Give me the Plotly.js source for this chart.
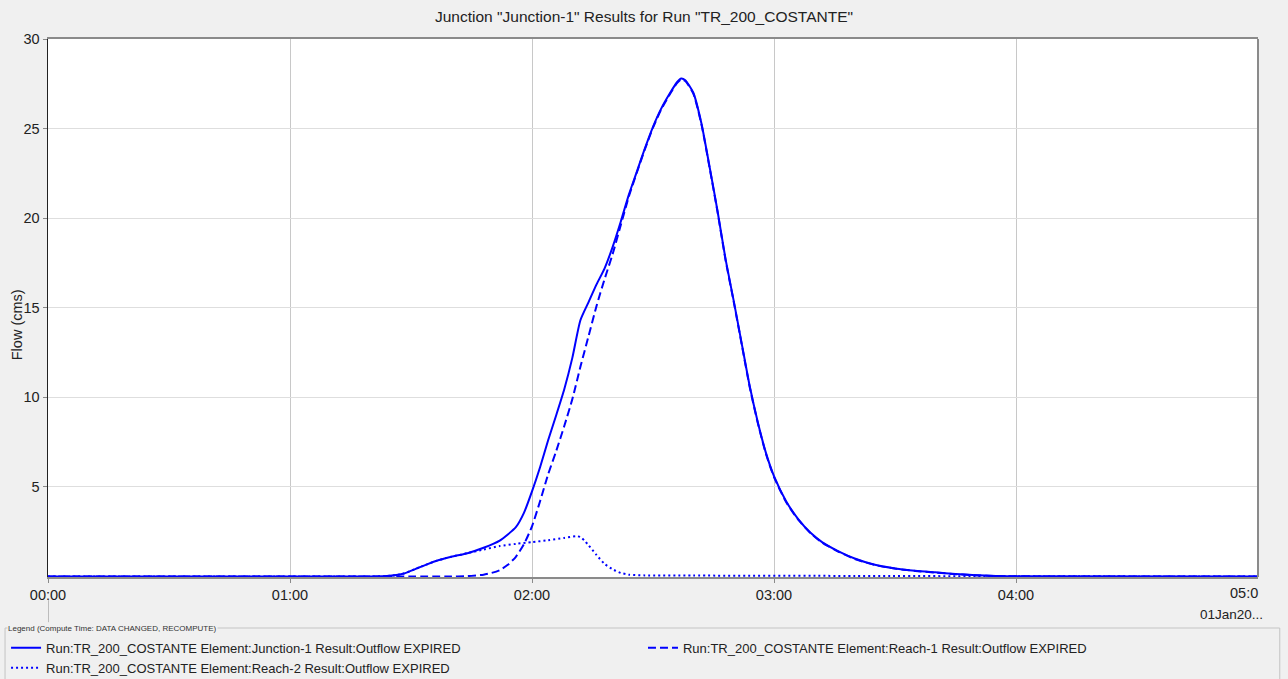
<!DOCTYPE html>
<html>
<head>
<meta charset="utf-8">
<script src="https://cdn.plot.ly/plotly-3.0.1.min.js"></script>
<style>html,body{margin:0;padding:0;background:#f0f0f0;}#chart{width:1288px;height:679px;}</style>
</head>
<body>
<div id="chart"></div>
<script>
// Time in minutes from 00:00
const junctionTime = [0, 80, 84, 88, 92, 96, 100, 104, 108, 112, 116, 118, 120, 122, 124, 126, 128, 130, 132, 134, 136, 138, 140, 142, 144, 146, 148, 150, 152, 154, 156, 157, 158, 160, 162, 164, 166, 168, 170, 172, 174, 176, 178, 180, 183, 186, 189, 192, 196, 200, 205, 210, 215, 220, 225, 230, 235, 240, 300];
const junctionFlow = [0, 0, 0.02, 0.15, 0.5, 0.85, 1.1, 1.3, 1.6, 2.0, 2.75, 3.55, 4.75, 6.1, 7.6, 9.0, 10.45, 12.2, 14.3, 15.3, 16.3, 17.2, 18.4, 19.8, 21.3, 22.6, 23.9, 25.1, 26.1, 26.9, 27.6, 27.8, 27.7, 27.0, 25.3, 22.9, 20.4, 17.7, 15.4, 13.0, 10.6, 8.6, 6.9, 5.6, 4.2, 3.2, 2.45, 1.9, 1.4, 1.0, 0.65, 0.45, 0.32, 0.23, 0.14, 0.07, 0.03, 0.01, 0];

const reach1Time = [0, 100, 104, 108, 110, 112, 114, 116, 118, 120, 122, 124, 126, 128, 130, 132, 134, 136, 138, 140, 142, 144, 146, 148, 150, 152, 154, 156, 157, 158, 160, 162, 164, 166, 168, 170, 172, 174, 176, 178, 180, 183, 186, 189, 192, 196, 200, 205, 210, 215, 220, 225, 230, 235, 240, 300];
const reach1Flow = [0, 0, 0.02, 0.1, 0.2, 0.35, 0.65, 1.1, 1.8, 2.8, 4.2, 5.7, 7.0, 8.4, 9.9, 11.7, 13.4, 15.1, 16.6, 18.0, 19.6, 21.2, 22.55, 23.85, 25.05, 26.05, 26.85, 27.55, 27.75, 27.65, 26.95, 25.25, 22.85, 20.35, 17.65, 15.35, 12.95, 10.55, 8.55, 6.85, 5.55, 4.16, 3.17, 2.43, 1.88, 1.38, 0.98, 0.64, 0.44, 0.31, 0.22, 0.13, 0.065, 0.025, 0.008, 0];

const reach2Time = [0, 80, 84, 88, 92, 96, 100, 104, 108, 112, 116, 120, 124, 128, 131, 132, 133, 134, 136, 138, 140, 142, 144, 148, 160, 200, 240, 300];
const reach2Flow = [0, 0, 0.02, 0.15, 0.5, 0.85, 1.1, 1.3, 1.5, 1.7, 1.82, 1.92, 2.02, 2.15, 2.25, 2.2, 2.0, 1.75, 1.2, 0.7, 0.4, 0.2, 0.1, 0.06, 0.05, 0.03, 0.01, 0];

const tickMinutes = [0, 60, 120, 180, 240];
const tickLabels = ["00:00", "01:00", "02:00", "03:00", "04:00"];
const seriesNames = [
  "Run:TR_200_COSTANTE Element:Junction-1 Result:Outflow EXPIRED",
  "Run:TR_200_COSTANTE Element:Reach-1 Result:Outflow EXPIRED",
  "Run:TR_200_COSTANTE Element:Reach-2 Result:Outflow EXPIRED"
];

const FONT = "Liberation Sans, Arial, sans-serif";
const BLUE = "#0000ff";

const traces = [
  {x: junctionTime, y: junctionFlow, name: seriesNames[0], legend: "legend", legendrank: 1, mode: "lines", line: {color: BLUE, width: 2, shape: "spline", smoothing: 0.6}},
  {x: reach1Time, y: reach1Flow, name: seriesNames[1], legend: "legend2", mode: "lines", line: {color: BLUE, width: 2, dash: "8px,4px", shape: "spline", smoothing: 0.6}},
  {x: reach2Time, y: reach2Flow, name: seriesNames[2], legend: "legend", legendrank: 2, mode: "lines", line: {color: BLUE, width: 2, dash: "2px,3px", shape: "spline", smoothing: 0.6}}
];

const legendFont = {family: FONT, size: 13, color: "#222"};

const layout = {
  width: 1288, height: 679,
  paper_bgcolor: "#f0f0f0",
  plot_bgcolor: "#ffffff",
  margin: {l: 48, r: 30, t: 39, b: 102, autoexpand: false},
  font: {family: FONT, size: 13, color: "#222"},
  title: {text: 'Junction "Junction-1" Results for Run "TR_200_COSTANTE"', font: {family: FONT, size: 15.5, color: "#222"}, x: 0.5, xanchor: "center", y: 0.975, yanchor: "middle"},
  xaxis: {
    range: [0, 300], tickvals: tickMinutes, ticktext: tickLabels,
    showgrid: true, gridcolor: "#c8c8c8", gridwidth: 1,
    showline: true, linecolor: "#8a8a8a", linewidth: 2, mirror: true,
    ticks: "outside", ticklen: 4, tickcolor: "#8a8a8a",
    tickfont: {family: FONT, size: 14.5, color: "#222"},
    zeroline: false, fixedrange: true
  },
  yaxis: {
    range: [-0.03, 30], tickvals: [5, 10, 15, 20, 25, 30],
    showgrid: true, gridcolor: "#dedede", gridwidth: 1,
    showline: true, linecolor: "#222", linewidth: 1.5, mirror: false,
    ticks: "outside", ticklen: 4, tickcolor: "#888",
    tickfont: {family: FONT, size: 14.5, color: "#222"},
    zeroline: false, fixedrange: true
  },
  showlegend: true,
  legend: {
    orientation: "v", xref: "container", yref: "container",
    x: 0.0047, y: 0.068, xanchor: "left", yanchor: "top",
    bgcolor: "rgba(0,0,0,0)", borderwidth: 0,
    font: legendFont, tracegroupgap: 0, traceorder: "normal"
  },
  legend2: {
    orientation: "v", xref: "container", yref: "container",
    x: 0.4992, y: 0.068, xanchor: "left", yanchor: "top",
    bgcolor: "rgba(0,0,0,0)", borderwidth: 0,
    font: legendFont
  },
  shapes: [
    {type: "line", xref: "paper", yref: "paper", x0: 1, x1: 1, y0: 0, y1: 1, line: {color: "#8a8a8a", width: 2}},
    {type: "line", xref: "x", yref: "paper", x0: 0, x1: 0, y0: -0.043, y1: -0.084, line: {color: "#888", width: 1}},
    {type: "rect", xref: "paper", yref: "paper", x0: -0.0355, x1: 1.018, y0: -0.0948, y1: -0.2, line: {color: "#c4c4c4", width: 1}, fillcolor: "rgba(0,0,0,0)"}
  ],
  annotations: [
    {text: "Flow (cms)", xref: "paper", yref: "paper", x: -0.0256, y: 0.468, xanchor: "center", yanchor: "middle", textangle: -90, showarrow: false, font: {family: FONT, size: 14.5, color: "#222"}},
    {text: "05:0", xref: "paper", yref: "paper", x: 1.002, y: -0.012, xanchor: "right", yanchor: "top", showarrow: false, font: {family: FONT, size: 14.5, color: "#222"}},
    {text: "01Jan20...", xref: "paper", yref: "paper", x: 1.006, y: -0.052, xanchor: "right", yanchor: "top", showarrow: false, font: {family: FONT, size: 13.5, color: "#222"}},
    {text: "Legend (Compute Time: DATA CHANGED, RECOMPUTE)", xref: "paper", yref: "paper", x: -0.0335, y: -0.0948, xanchor: "left", yanchor: "middle", showarrow: false, bgcolor: "#f0f0f0", borderpad: 0, font: {family: FONT, size: 8, color: "#333"}}
  ]
};

Plotly.newPlot("chart", traces, layout, {displayModeBar: false, staticPlot: true});
</script>
</body>
</html>
